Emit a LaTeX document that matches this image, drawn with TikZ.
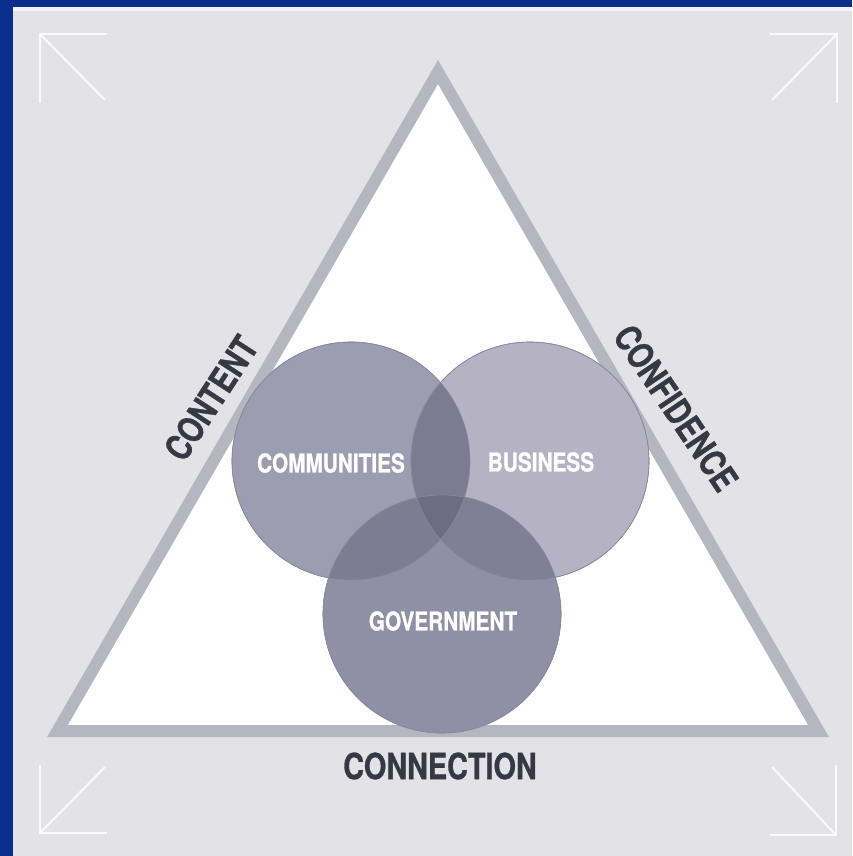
\documentclass[tikz,border=0pt]{standalone}
\usepackage{fontspec}
\setmainfont{TeX Gyre Heros}[FakeStretch=0.8]
\newfontfamily\labfont{TeX Gyre Heros}[FakeStretch=0.8, FakeBold=0.8]
\definecolor{bgblue}{HTML}{0B2F8C}
\definecolor{panel}{HTML}{E2E2E7}
\definecolor{tri}{HTML}{B6B6C0}
\definecolor{ccom}{HTML}{9E9CB0}
\definecolor{cbus}{HTML}{B5B3C3}
\definecolor{cgov}{HTML}{918FA5}
\definecolor{ccb}{HTML}{7D7B92}
\definecolor{ccg}{HTML}{7E7C92}
\definecolor{cbg}{HTML}{817F97}
\definecolor{call}{HTML}{6E6C84}
\definecolor{edge}{HTML}{8A889C}
\definecolor{labtext}{HTML}{383844}
\tikzset{
  set/.style={circle, minimum size=238pt, inner sep=0pt, draw=edge, line width=0.6pt},
  inlab/.style={text=white, font=\labfont\fontsize{26}{30}\selectfont\bfseries},
  sidelab/.style={text=labtext, font=\labfont\fontsize{36}{40}\selectfont\bfseries},
  cornerarrow/.style={draw=white, line width=2pt, opacity=0.85}
}
\begin{document}
\begin{tikzpicture}[x=1pt,y=-1pt]
\useasboundingbox (0,0) rectangle (852,856);
\fill[bgblue] (0,0) rectangle (852,856);
\fill[panel] (13,7) rectangle (852,856);
\fill[white!60!panel] (13,7) rectangle (852,11);
% corner arrows
\coordinate (tl) at (40,34); \coordinate (tlh) at (107,34); \coordinate (tlv) at (40,103); \coordinate (tlt) at (105,100);
\draw[cornerarrow] (tlh) -- (tl) -- (tlv); \draw[cornerarrow] (tl) -- (tlt);
\coordinate (tr) at (837,34); \coordinate (trh) at (770,34); \coordinate (trv) at (837,103); \coordinate (trt) at (772,100);
\draw[cornerarrow] (trh) -- (tr) -- (trv); \draw[cornerarrow] (tr) -- (trt);
\coordinate (bl) at (40,833); \coordinate (blh) at (107,833); \coordinate (blv) at (40,765); \coordinate (blt) at (105,767);
\draw[cornerarrow] (blh) -- (bl) -- (blv); \draw[cornerarrow] (bl) -- (blt);
\coordinate (br) at (836,835); \coordinate (brh) at (770,835); \coordinate (brv) at (836,765); \coordinate (brt) at (772,767);
\draw[cornerarrow] (brh) -- (br) -- (brv); \draw[cornerarrow] (br) -- (brt);
% triangle
\coordinate (apex) at (438,72);
\coordinate (right) at (818.5,731);
\coordinate (left) at (57.5,731);
\draw[line width=12pt, draw=tri, fill=white, line join=miter] (apex) -- (right) -- (left) -- cycle;
% circles
\node[set, fill=ccom] (com) at (351,461) {};
\node[set, fill=cbus] (bus) at (530,461) {};
\node[set, fill=cgov] (gov) at (442,614) {};
\begin{scope}
  \clip (com.center) circle (119);
  \fill[ccb] (bus.center) circle (119);
  \fill[ccg] (gov.center) circle (119);
\end{scope}
\begin{scope}
  \clip (bus.center) circle (119);
  \fill[cbg] (gov.center) circle (119);
  \clip (com.center) circle (119);
  \fill[call] (gov.center) circle (119);
\end{scope}
\draw[edge, line width=0.6pt] (com.center) circle (119);
\draw[edge, line width=0.6pt] (bus.center) circle (119);
\draw[edge, line width=0.6pt] (gov.center) circle (119);
\node[inlab] (comlab) at (331,463) {COMMUNITIES};
\node[inlab] (buslab) at (541,462) {BUSINESS};
\node[inlab] (govlab) at (443,621) {GOVERNMENT};
% side labels
\node[sidelab, rotate=57] (content) at (211,398) {CONTENT};
\node[sidelab, rotate=-56] (confidence) at (676,408) {CONFIDENCE};
\node[sidelab] (connection) at (440,766) {CONNECTION};
\end{tikzpicture}
\end{document}
